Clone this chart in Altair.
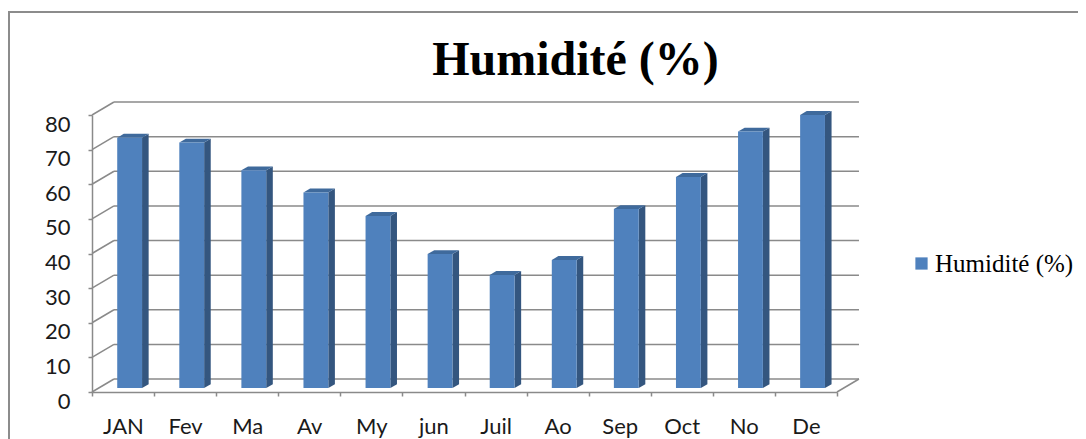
import altair as alt
import pandas as pd

# ---- data ----
months = ["JAN", "Fev", "Ma", "Av", "My", "jun", "Juil", "Ao", "Sep", "Oct", "No", "De"]
humidity = [72.3, 70.9, 62.9, 56.5, 49.7, 38.7, 32.7, 37.0, 51.7, 61.0, 74.1, 78.9]
y_ticks = [0, 10, 20, 30, 40, 50, 60, 70, 80]
series_name = "Humidité (%)"
title_text = "Humidité (%)"

# ---- 3D styling constants (in scale units) ----
DX = 0.354      # wall depth along x (category units)
DY = 3.75       # wall depth along y (value units)
F_FRONT = 0.3   # bar front plane (fraction of depth)
F_BACK = 0.6    # bar back plane
B_L, B_R = 0.3, 0.7  # bar extent inside the category

GRID = "#8a8a8a"
FRONT = "#4f81bd"
SIDE = "#34567f"
TOP = "#3f6a9c"
N = len(months)

# front faces
front = pd.DataFrame({
    "month": months,
    "series": series_name,
    "x": [i + B_L + F_FRONT * DX for i in range(N)],
    "x2": [i + B_R + F_FRONT * DX for i in range(N)],
    "y": [F_FRONT * DY] * N,
    "y2": [v + F_FRONT * DY for v in humidity],
})

# side faces (parallelograms drawn as areas)
side_rows = []
for i, (m, v) in enumerate(zip(months, humidity)):
    side_rows.append({"id": m, "x": i + B_R + F_FRONT * DX, "y": v + F_FRONT * DY, "y2": F_FRONT * DY})
    side_rows.append({"id": m, "x": i + B_R + F_BACK * DX, "y": v + F_BACK * DY, "y2": F_BACK * DY})
side = pd.DataFrame(side_rows)

# top faces
top_rows = []
for i, (m, v) in enumerate(zip(months, humidity)):
    yf, yb = v + F_FRONT * DY, v + F_BACK * DY
    a1, b1 = i + B_L + F_FRONT * DX, i + B_R + F_FRONT * DX
    a2, b2 = i + B_L + F_BACK * DX, i + B_R + F_BACK * DX
    top_rows += [
        {"id": m, "x": a1, "y": yf, "y2": yf},
        {"id": m, "x": a2, "y": yb, "y2": yf},
        {"id": m, "x": b1, "y": yb, "y2": yf},
        {"id": m, "x": b2, "y": yb, "y2": yb},
    ]
top = pd.DataFrame(top_rows)

# walls / floor grid
grid_rows = []
for v in y_ticks:
    grid_rows.append({"x": DX, "x2": N + DX, "y": v + DY, "y2": v + DY})
    grid_rows.append({"x": 0, "x2": DX, "y": v, "y2": v + DY})
grid_rows.append({"x": N, "x2": N + DX, "y": 0, "y2": DY})
grid = pd.DataFrame(grid_rows)

x_scale = alt.Scale(domain=[0, N], nice=False, zero=False)
y_scale = alt.Scale(domain=[0, 80], nice=False)

labels_js = "[" + ",".join("'" + m + "'" for m in months) + "]"

x_axis = alt.Axis(
    values=list(range(N + 1)), title=None, grid=False,
    domainColor=GRID, domainWidth=1.5, tickColor=GRID, tickWidth=1.5, tickSize=4,
    labelExpr=labels_js + "[datum.value] || ''",
    labelOffset=31, labelPadding=37, labelBaseline="alphabetic",
    labelFont="Lato", labelFontSize=22, labelColor="#1a1a1a",
    labelFlush=False, labelOverlap=False, labelBound=False,
)
y_axis = alt.Axis(
    values=y_ticks, title=None, grid=False,
    domainColor=GRID, domainWidth=1.5, tickColor=GRID, tickWidth=1.5, tickSize=4,
    labelFont="Lato", labelFontSize=22, labelColor="#1a1a1a",
    labelPadding=18, labelOffset=9, labelFlush=False, labelOverlap=False,
    labelBound=False,
)

border = alt.Chart(pd.DataFrame({"k": [0]})).mark_rect(
    fill=None, stroke="#8c8c8c", strokeWidth=2
).encode(
    x=alt.value(-83), x2=alt.value(1400), y=alt.value(-103), y2=alt.value(1000)
)

grid_layer = alt.Chart(grid).mark_rule(color=GRID, strokeWidth=1.5).encode(
    x=alt.X("x:Q", scale=x_scale, axis=x_axis),
    x2="x2:Q",
    y=alt.Y("y:Q", scale=y_scale, axis=y_axis),
    y2="y2:Q",
)

side_layer = alt.Chart(side).mark_area(color=SIDE, opacity=1).encode(
    x=alt.X("x:Q", scale=x_scale, axis=x_axis),
    y=alt.Y("y:Q", scale=y_scale, stack=None, axis=y_axis),
    y2="y2:Q",
    detail="id:N",
)

top_layer = alt.Chart(top).mark_area(color=TOP, opacity=1).encode(
    x=alt.X("x:Q", scale=x_scale, axis=x_axis),
    y=alt.Y("y:Q", scale=y_scale, stack=None, axis=y_axis),
    y2="y2:Q",
    detail="id:N",
)

front_layer = alt.Chart(front).mark_rect().encode(
    x=alt.X("x:Q", scale=x_scale, axis=x_axis),
    x2="x2:Q",
    y=alt.Y("y:Q", scale=y_scale, axis=y_axis),
    y2="y2:Q",
    color=alt.Color(
        "series:N",
        scale=alt.Scale(domain=[series_name], range=[FRONT]),
        legend=alt.Legend(
            title=None, orient="none", legendX=817, legendY=136,
            symbolType="square", symbolSize=150, symbolStrokeWidth=0,
            labelFont="Liberation Serif", labelFontSize=25, labelColor="#000000",
            labelOffset=1, padding=0,
        ),
    ),
)

chart = alt.layer(border, grid_layer, side_layer, top_layer, front_layer).properties(
    width=745,
    height=277,
    title=alt.TitleParams(
        title_text, font="Liberation Serif", fontSize=48, fontWeight="bold",
        color="#000000", anchor="middle", frame="group", dx=111, offset=-112,
        baseline="alphabetic",
    ),
    autosize=alt.AutoSizeParams(type="none"),
    padding={"left": 84, "top": 107, "right": 241, "bottom": 47},
).configure_view(stroke=None).configure_axisY(labelOverlap=False)

chart.save("out.html", embed_options={"renderer": "svg", "actions": False})
